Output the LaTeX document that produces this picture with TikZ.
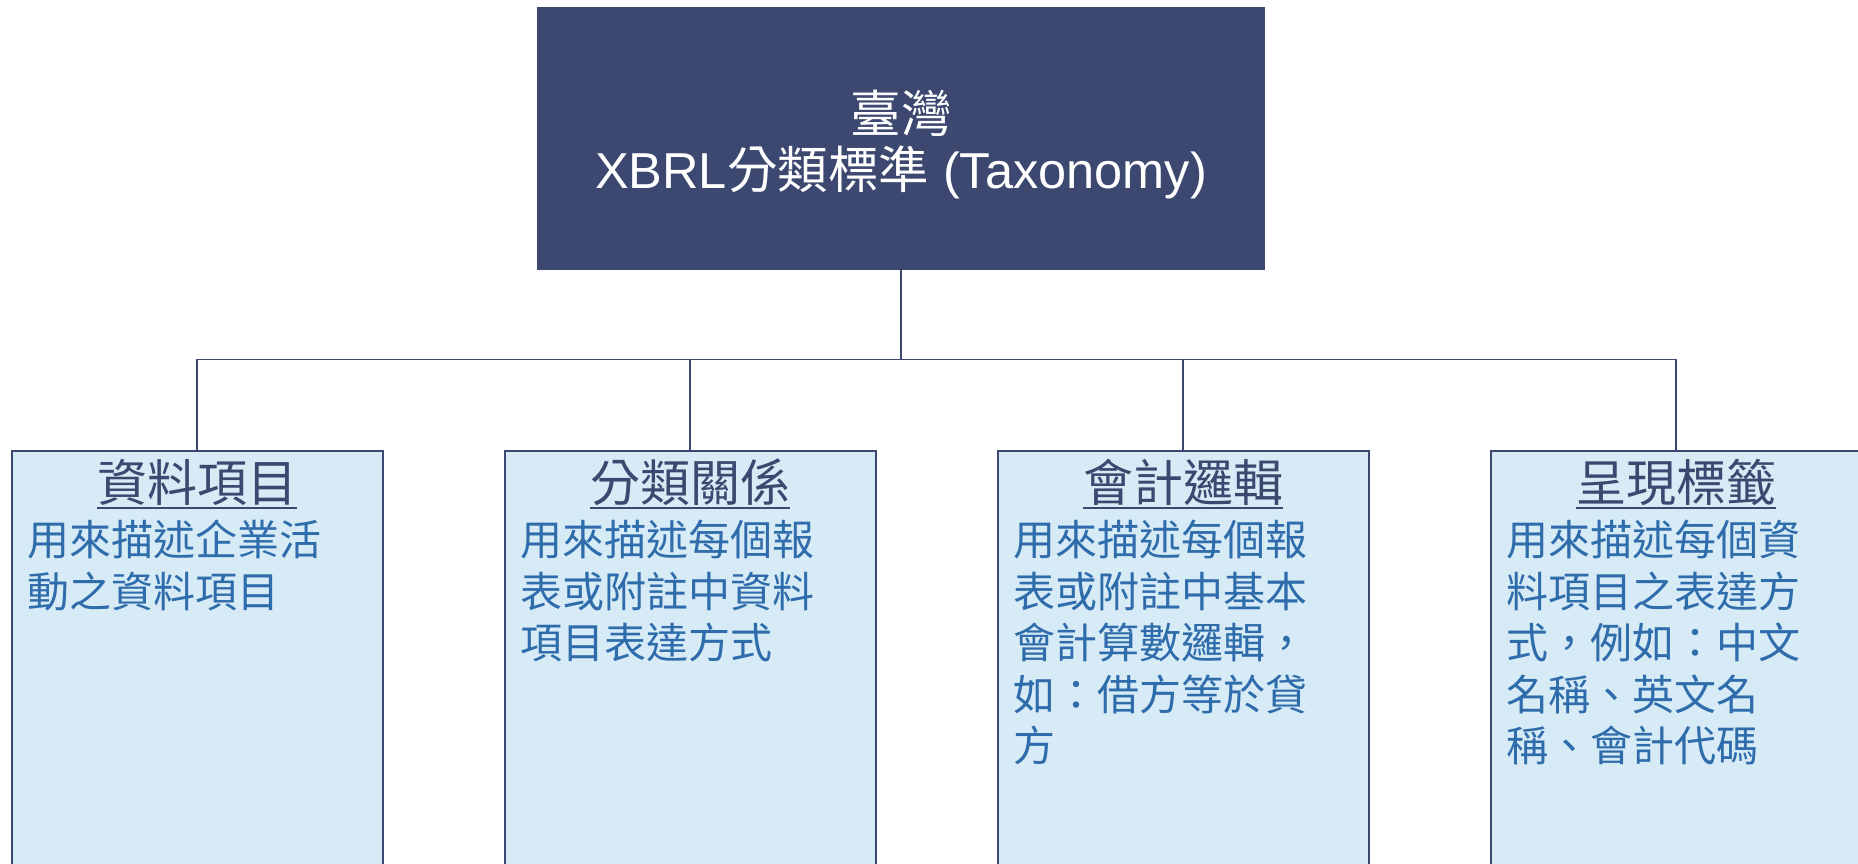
\documentclass[tikz,border=0pt]{standalone}
\usepackage{fontspec}
\setmainfont{Liberation Sans}
\newfontfamily\cjk{Noto Sans CJK TC}
\definecolor{navy}{RGB}{60,72,112}
\definecolor{paleblue}{RGB}{214,235,245}
\definecolor{textblue}{RGB}{46,108,171}
\begin{document}
\begin{tikzpicture}[x=1pt,y=-1pt,
  rootbox/.style={fill=navy,minimum width=728pt,minimum height=263pt,inner sep=0pt},
  leafbox/.style={draw=navy,line width=2pt,fill=paleblue,anchor=north,
    minimum width=371pt,minimum height=460pt,inner sep=0pt},
  headtext/.style={text=white,font=\fontsize{50.5}{50}\selectfont,anchor=base,inner sep=0pt},
  leaftitle/.style={text=navy,font=\cjk\fontsize{50}{50}\selectfont,anchor=base,inner sep=0pt},
  leafbody/.style={text=textblue,font=\cjk\fontsize{42}{51.5}\selectfont,
    align=left,anchor=north west,inner sep=0pt},
  titleline/.style={navy,line width=2.7pt},
  link/.style={draw=navy,line width=1.4pt}]
\useasboundingbox (0,0) rectangle (1858,864);
\clip (0,0) rectangle (1858,864);
% Root box with its two lines
\node[rootbox] (root) at (901,138.5) {};
\node[headtext] (rootline1) at (901,132) {\cjk 臺灣};
\node[headtext] (rootline2) at (901,188) {XBRL{\cjk 分類標準} (Taxonomy)};
% Four leaf boxes, running past the bottom edge
\node[leafbox] (item) at (197,450) {};
\node[leafbox] (tree) at (690,450) {};
\node[leafbox] (calc) at (1183,450) {};
\node[leafbox] (label) at (1676,450) {};
% Connectors from the root down to each leaf
\draw[link] (root.south) -- ++(0,89) -| (item.north);
\draw[link] (root.south) -- ++(0,89) -| (tree.north);
\draw[link] (root.south) -- ++(0,89) -| (calc.north);
\draw[link] (root.south) -- ++(0,89) -| (label.north);
% Titles, underlined
\node[leaftitle] (itemttl) at ([yshift=-51pt]item.north) {資料項目};
\node[leaftitle] (treettl) at ([yshift=-51pt]tree.north) {分類關係};
\node[leaftitle] (calcttl) at ([yshift=-51pt]calc.north) {會計邏輯};
\node[leaftitle] (labelttl) at ([yshift=-51pt]label.north) {呈現標籤};
\draw[titleline] ([yshift=-7pt]itemttl.base west) -- ([yshift=-7pt]itemttl.base east);
\draw[titleline] ([yshift=-7pt]treettl.base west) -- ([yshift=-7pt]treettl.base east);
\draw[titleline] ([yshift=-7pt]calcttl.base west) -- ([yshift=-7pt]calcttl.base east);
\draw[titleline] ([yshift=-7pt]labelttl.base west) -- ([yshift=-7pt]labelttl.base east);
% Descriptions
\node[leafbody] (itembody) at ([xshift=17pt,yshift=-70pt]item.north west)
  {用來描述企業活\\動之資料項目};
\node[leafbody] (treebody) at ([xshift=17pt,yshift=-70pt]tree.north west)
  {用來描述每個報\\表或附註中資料\\項目表達方式};
\node[leafbody] (calcbody) at ([xshift=17pt,yshift=-70pt]calc.north west)
  {用來描述每個報\\表或附註中基本\\會計算數邏輯，\\如：借方等於貸\\方};
\node[leafbody] (labelbody) at ([xshift=17pt,yshift=-70pt]label.north west)
  {用來描述每個資\\料項目之表達方\\式，例如：中文\\名稱、英文名\\稱、會計代碼};
\end{tikzpicture}
\end{document}
